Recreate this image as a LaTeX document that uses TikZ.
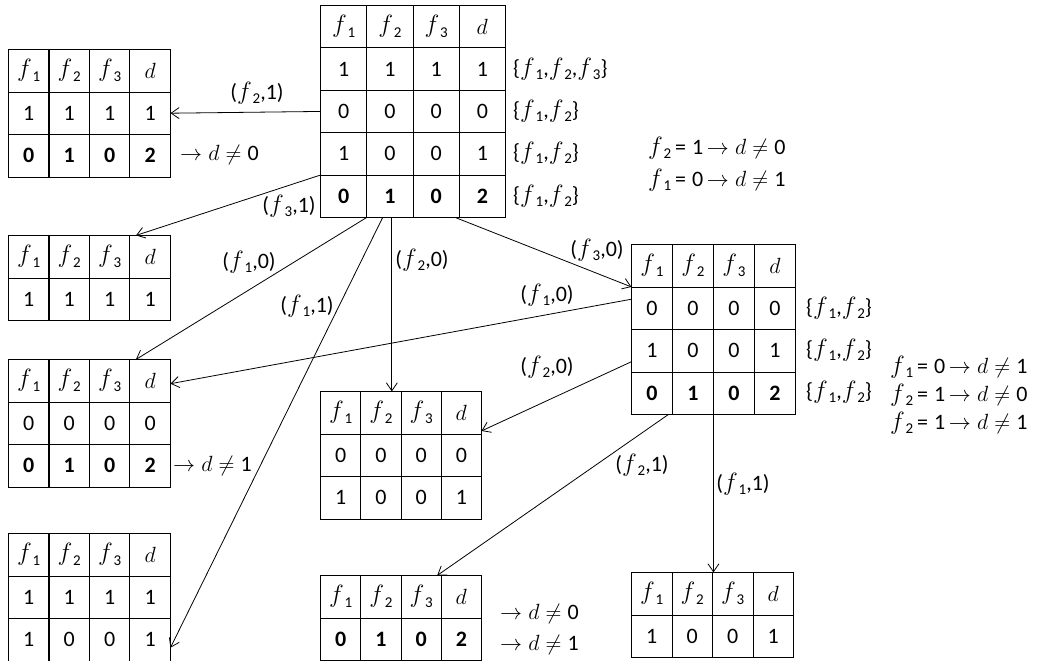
\RequirePackage{fix-cm}
\documentclass[tikz,border=0pt]{standalone}
\usepackage{fontspec}
\setmainfont{Carlito}
\usetikzlibrary{matrix,arrows.meta}
\newcommand\fs{\fontsize{22}{26}\selectfont}
\newcommand\ff[1]{{\fontsize{25}{26}\selectfont$f$}\kern0.8pt\raisebox{-0.4ex}{\fontsize{15}{15}\selectfont #1}}
\newcommand\ndq[1]{$\rightarrow d\neq\;$#1}
\newcommand\rul[3]{\ff{#1}\,=\;#2\,\ndq{#3}}
\newcommand\st[1]{\{#1\}}
\tikzset{
  cell/.style={draw, line width=0.9pt, inner sep=0pt, outer sep=0pt,
    minimum height=42.5pt, font=\fs, anchor=center},
  tbl/.style={matrix of nodes, inner sep=0pt, outer sep=0pt,
    column sep=-0.9pt, row sep=-0.9pt, nodes={cell, minimum width=#1}},
  conn/.style={line width=0.8pt,
    -{Straight Barb[length=8pt,width=11pt,line width=0.8pt]}},
  lab/.style={font=\fs, inner sep=0pt},
  note/.style={font=\fs, inner sep=0pt, anchor=west},
}
\begin{document}
\begin{tikzpicture}[x=1pt,y=-1pt]
\useasboundingbox[fill=white] (0,0) rectangle (1039,661);

% tables
\matrix (T0) [tbl=46.25pt, nodes={minimum height=42.4pt}, anchor=north west] at (320,5) {
 \ff1 & \ff2 & \ff3 & $d$ \\
 1 & 1 & 1 & 1 \\
 0 & 0 & 0 & 0 \\
 1 & 0 & 0 & 1 \\
 \textbf{0} & \textbf{1} & \textbf{0} & \textbf{2} \\
};
\matrix (A) [tbl=40.5pt, anchor=north west] at (8,49) {
 \ff1 & \ff2 & \ff3 & $d$ \\
 1 & 1 & 1 & 1 \\
 \textbf{0} & \textbf{1} & \textbf{0} & \textbf{2} \\
};
\matrix (B) [tbl=40.5pt, anchor=north west] at (8,235) {
 \ff1 & \ff2 & \ff3 & $d$ \\
 1 & 1 & 1 & 1 \\
};
\matrix (C) [tbl=40.5pt, anchor=north west] at (8,359) {
 \ff1 & \ff2 & \ff3 & $d$ \\
 0 & 0 & 0 & 0 \\
 \textbf{0} & \textbf{1} & \textbf{0} & \textbf{2} \\
};
\matrix (D) [tbl=40.5pt, anchor=north west] at (8,533) {
 \ff1 & \ff2 & \ff3 & $d$ \\
 1 & 1 & 1 & 1 \\
 1 & 0 & 0 & 1 \\
};
\matrix (M) [tbl=40.25pt, anchor=north west] at (320,391) {
 \ff1 & \ff2 & \ff3 & $d$ \\
 0 & 0 & 0 & 0 \\
 1 & 0 & 0 & 1 \\
};
\matrix (R) [tbl=41pt, anchor=north west] at (631,244) {
 \ff1 & \ff2 & \ff3 & $d$ \\
 0 & 0 & 0 & 0 \\
 1 & 0 & 0 & 1 \\
 \textbf{0} & \textbf{1} & \textbf{0} & \textbf{2} \\
};
\matrix (BM) [tbl=40.25pt, anchor=north west] at (320,575) {
 \ff1 & \ff2 & \ff3 & $d$ \\
 \textbf{0} & \textbf{1} & \textbf{0} & \textbf{2} \\
};
\matrix (BR) [tbl=40.5pt, anchor=north west] at (631,572) {
 \ff1 & \ff2 & \ff3 & $d$ \\
 1 & 0 & 0 & 1 \\
};

% connectors
\draw[conn] (T0-3-1.west) -- (A-2-4.east);
\draw[conn] (T0-4-1.south west) -- ([xshift=6pt]B-1-4.north west);
\draw[conn] (T0-5-1.south east) -- ([xshift=6pt]C-1-4.north west);
\draw[conn] ([xshift=16pt]T0-5-2.south west) -- ([yshift=-8pt]D-3-4.east);
\draw[conn] ([xshift=2pt]T0-5-2.south) -- ([xshift=2pt]T0-5-2.south |- M-1-3.north);
\draw[conn] ([xshift=-4pt]T0-5-3.south east) -- (R-2-1.north west);
\draw[conn] ([yshift=9pt]R-2-1.west) -- ([yshift=-3pt]C-1-4.east);
\draw[conn] ([yshift=-11pt]R-3-1.west) -- ([yshift=3pt]M-1-4.south east);
\draw[conn] ([xshift=-4pt]R-4-1.south east) -- ([xshift=-4pt]BM-1-4.north west);
\draw[conn] (R-4-3.south west) -- (R-4-3.south west |- BR-1-1.north);

% connector labels
\node[lab] (l1) at (257,93) {(\ff2,1)};
\node[lab] (l2) at (289,206) {(\ff3,1)};
\node[lab] (l3) at (249,262) {(\ff1,0)};
\node[lab] (l4) at (307,306) {(\ff1,1)};
\node[lab] (l5) at (422,260) {(\ff2,0)};
\node[lab] (l6) at (597,250) {(\ff3,0)};
\node[lab] (l7) at (547,295) {(\ff1,0)};
\node[lab] (l8) at (547,367) {(\ff2,0)};
\node[lab] (l9) at (642,465) {(\ff2,1)};
\node[lab] (l10) at (743,484) {(\ff1,1)};

% annotations
\node[note] (n1) at (513,69) {\st{\ff1,\ff2,\ff3}};
\node[note] (n2) at (513,111) {\st{\ff1,\ff2}};
\node[note] (n3) at (513,153) {\st{\ff1,\ff2}};
\node[note] (n4) at (513,196) {\st{\ff1,\ff2}};
\node[note] (n5) at (648,148) {\rul{2}{1}{0}};
\node[note] (n6) at (648,180) {\rul{1}{0}{1}};
\node[note] (n7) at (180,155) {\ndq{0}};
\node[note] (n8) at (173,466) {\ndq{1}};
\node[note] (n9) at (806,308) {\st{\ff1,\ff2}};
\node[note] (n10) at (806,350) {\st{\ff1,\ff2}};
\node[note] (n11) at (806,392) {\st{\ff1,\ff2}};
\node[note] (n12) at (890,367) {\rul{1}{0}{1}};
\node[note] (n13) at (890,395) {\rul{2}{1}{0}};
\node[note] (n14) at (890,423) {\rul{2}{1}{1}};
\node[note] (n15) at (500,614) {\ndq{0}};
\node[note] (n16) at (500,645) {\ndq{1}};
\end{tikzpicture}
\end{document}
